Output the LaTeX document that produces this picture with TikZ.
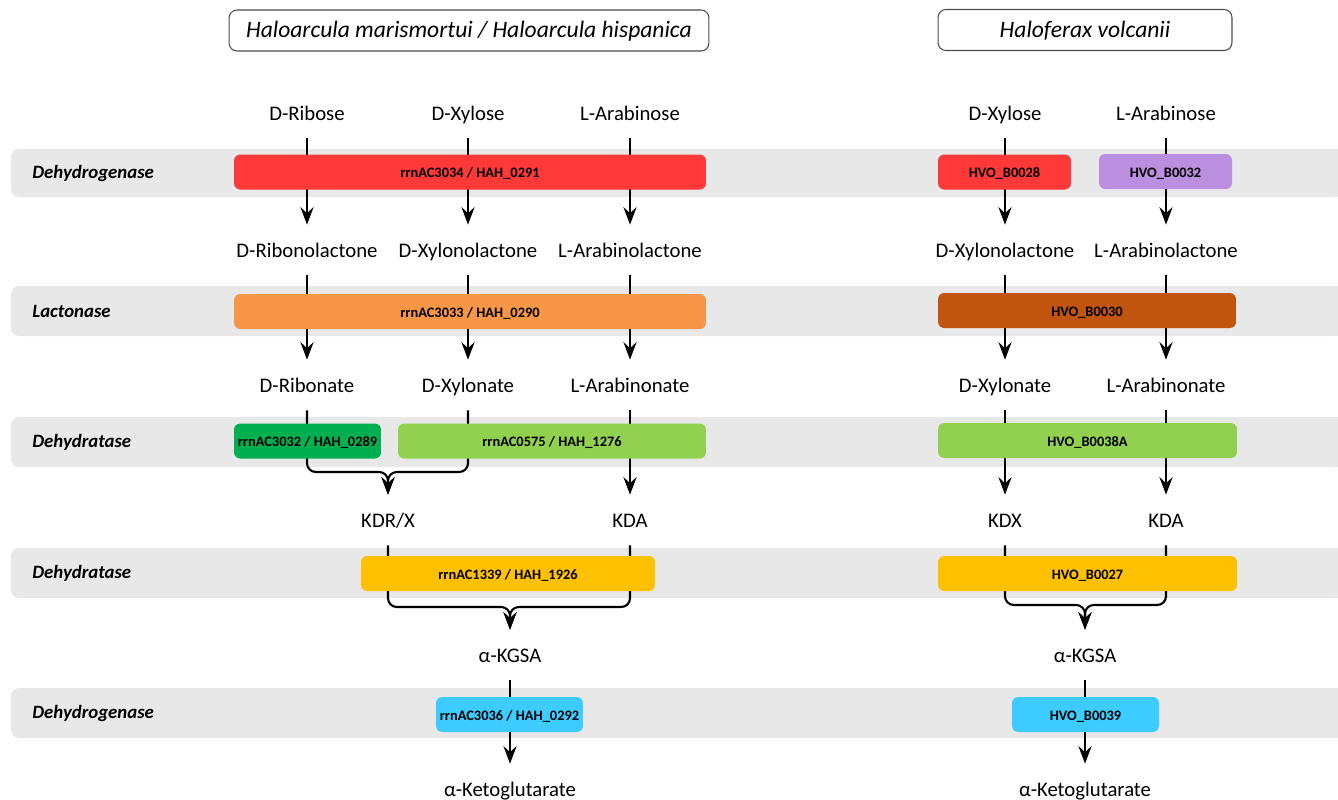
\documentclass[tikz,border=0pt]{standalone}
\usepackage{fontspec}
\setmainfont{Carlito}
\usetikzlibrary{arrows.meta}
\definecolor{bandgray}{RGB}{232,232,232}
\definecolor{cRed}{RGB}{255,56,56}
\definecolor{cOrange}{RGB}{247,150,70}
\definecolor{cBrown}{RGB}{193,85,15}
\definecolor{cPurple}{RGB}{187,143,223}
\definecolor{cDkGreen}{RGB}{0,176,80}
\definecolor{cLtGreen}{RGB}{146,208,80}
\definecolor{cYellow}{RGB}{255,192,0}
\definecolor{cCyan}{RGB}{61,204,255}
\tikzset{
  met/.style={minimum height=1cm, inner sep=0pt, text height=1.9ex, text depth=0.2ex,
    font=\fontsize{11.8}{14}\selectfont},
  gene/.style={fill=#1, rounded corners=3.5pt, minimum height=0.7cm, inner sep=0pt,
    text height=1.7ex, text depth=0.3ex, font=\fontsize{8.2}{10}\selectfont\bfseries},
  flow/.style={line width=1.2pt, -{Stealth[length=10pt,width=7.5pt,inset=3.5pt]}},
  hdr/.style={draw=black!70, line width=0.6pt, rounded corners=4.5pt, minimum height=0.82cm,
    text height=1.9ex, text depth=0.2ex, font=\fontsize{13.4}{16}\selectfont\itshape},
  enz/.style={anchor=west, inner sep=0pt, font=\fontsize{10.7}{13}\selectfont\bfseries\itshape}
}
\begin{document}
\begin{tikzpicture}[x=0.02cm, y=-0.02cm]
\useasboundingbox (0,0) rectangle (1338,799);
\foreach \t/\b/\lab/\n in {149/197/Dehydrogenase/1, 286/336/Lactonase/2, 417/467/Dehydratase/3,
  548/598/Dehydratase/4, 688/738/Dehydrogenase/5} {
  \fill[bandgray, rounded corners=4.5pt] (11,\t) rectangle (1338,\b);
  \fill[bandgray] (1300,\t) rectangle (1338,\b);
  \node[enz] (enz\n) at (32,{(\t+\b)/2}) {\lab};
}
\node[hdr, minimum width=9.6cm] (hdrH) at (469,30.5) {Haloarcula marismortui / Haloarcula hispanica};
\node[hdr, minimum width=5.88cm] (hdrF) at (1085,30) {Haloferax volcanii};
% Haloarcula
\node[met] (rib) at (307,113) {D-Ribose};
\node[met] (xyl) at (468,113) {D-Xylose};
\node[met] (ara) at (630,113) {L-Arabinose};
\node[met] (ribl) at (307,250) {D-Ribonolactone};
\node[met] (xyll) at (468,250) {D-Xylonolactone};
\node[met] (aral) at (630,250) {L-Arabinolactone};
\node[met] (ribn) at (307,385) {D-Ribonate};
\node[met] (xyln) at (468,385) {D-Xylonate};
\node[met] (aran) at (630,385) {L-Arabinonate};
\node[met] (kdrx) at (388,520) {KDR/X};
\node[met] (kda) at (630,520) {KDA};
\node[met] (kgsa) at (510,655) {α-KGSA};
\node[met] (akg) at (510,789) {α-Ketoglutarate};
% Haloferax
\node[met] (hxyl) at (1005,113) {D-Xylose};
\node[met] (hara) at (1166,113) {L-Arabinose};
\node[met] (hxyll) at (1005,250) {D-Xylonolactone};
\node[met] (haral) at (1166,250) {L-Arabinolactone};
\node[met] (hxyln) at (1005,385) {D-Xylonate};
\node[met] (haran) at (1166,385) {L-Arabinonate};
\node[met] (hkdx) at (1005,520) {KDX};
\node[met] (hkda) at (1166,520) {KDA};
\node[met] (hkgsa) at (1085,655) {α-KGSA};
\node[met] (hakg) at (1085,789) {α-Ketoglutarate};
\foreach \a/\b in {rib/ribl, xyl/xyll, ara/aral, ribl/ribn, xyll/xyln, aral/aran, aran/kda, kgsa/akg,
  hxyl/hxyll, hara/haral, hxyll/hxyln, haral/haran, hxyln/hkdx, haran/hkda, hkgsa/hakg}
  \draw[flow] (\a) -- (\b);
\coordinate (jA) at (388,472);
\coordinate (jB) at (510,607);
\coordinate (jC) at (1085,605);
\foreach \a/\j/\b in {ribn/jA/kdrx, xyln/jA/kdrx, kdrx/jB/kgsa, kda/jB/kgsa, hkdx/jC/hkgsa, hkda/jC/hkgsa}
  \draw[flow, rounded corners=5pt] (\a) |- (\j) -- (\b);
% genes
\node[gene=cRed, minimum width=9.44cm] (g1) at (470,172) {rrnAC3034 / HAH\_0291};
\node[gene=cOrange, minimum width=9.44cm] (g2) at (470,311.5) {rrnAC3033 / HAH\_0290};
\node[gene=cDkGreen, minimum width=2.94cm] (g3) at (307.5,441) {rrnAC3032 / HAH\_0289};
\node[gene=cLtGreen, minimum width=6.16cm] (g4) at (552,441) {rrnAC0575 / HAH\_1276};
\node[gene=cYellow, minimum width=5.88cm] (g5) at (508,573.5) {rrnAC1339 / HAH\_1926};
\node[gene=cCyan, minimum width=2.94cm] (g6) at (509.5,714.5) {rrnAC3036 / HAH\_0292};
\node[gene=cRed, minimum width=2.66cm] (h1) at (1004.5,172) {HVO\_B0028};
\node[gene=cPurple, minimum width=2.66cm] (h2) at (1165.5,171.5) {HVO\_B0032};
\node[gene=cBrown, minimum width=5.96cm] (h3) at (1087,310.5) {HVO\_B0030};
\node[gene=cLtGreen, minimum width=5.98cm] (h4) at (1087.5,440.5) {HVO\_B0038A};
\node[gene=cYellow, minimum width=5.98cm] (h5) at (1087.5,573.5) {HVO\_B0027};
\node[gene=cCyan, minimum width=2.94cm] (h6) at (1085.5,714.5) {HVO\_B0039};
\end{tikzpicture}
\end{document}
